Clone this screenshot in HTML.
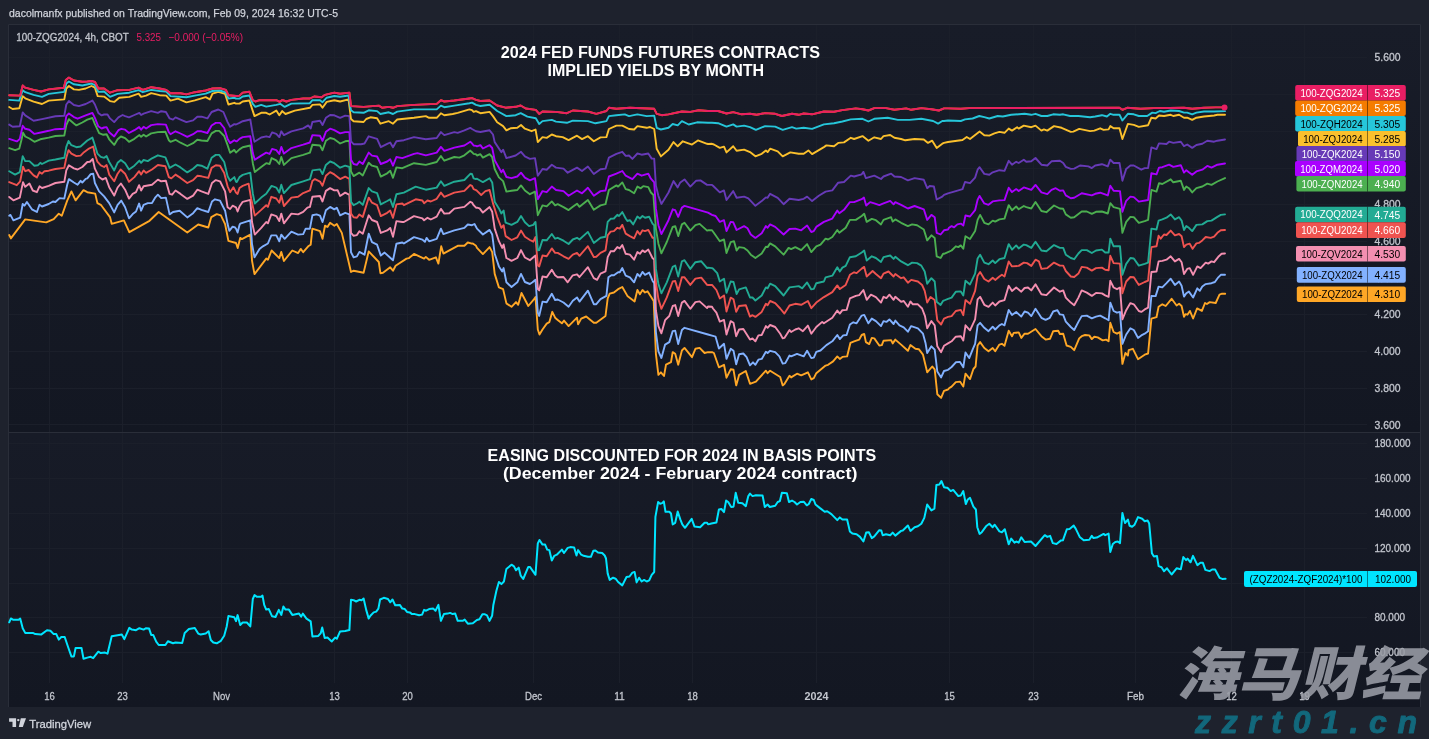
<!DOCTYPE html><html><head><meta charset="utf-8"><title>2024 Fed Funds Futures Contracts</title>
<style>html,body{margin:0;padding:0;background:#1e222d}body{width:1429px;height:739px;overflow:hidden;position:relative;font-family:"Liberation Sans", sans-serif}svg{position:absolute;left:0;top:0;display:block;will-change:transform;transform:translateZ(0)}text{font-family:"Liberation Sans", sans-serif;stroke-linejoin:round}.t{stroke:#c3c6ce;stroke-width:.3px}.wm{font-family:"Liberation Sans","Noto Sans CJK SC",sans-serif}</style></head><body>
<svg width="1429" height="739" viewBox="0 0 1429 739">
<rect x="0" y="0" width="1429" height="739" fill="#1e222d"/>
<g>
<defs><linearGradient id="gu" x1="0" y1="0" x2="0" y2="1"><stop offset="0" stop-color="#181c28"/><stop offset="1" stop-color="#131722"/></linearGradient><linearGradient id="gl" x1="0" y1="0" x2="0" y2="1"><stop offset="0" stop-color="#171b27"/><stop offset="1" stop-color="#131722"/></linearGradient></defs>
<rect x="8" y="24" width="1413" height="409" fill="url(#gu)"/><rect x="8" y="433" width="1413" height="274" fill="url(#gl)"/>
<path d="M8.5,707V24.5H1420.5V707" fill="none" stroke="#2a2e39" stroke-width="1"/>
<path d="M49.5,25V683M122.5,25V683M221.5,25V683M334.5,25V683M407.5,25V683M533.5,25V683M619.5,25V683M692.5,25V683M816.5,25V683M949.5,25V683M1033.5,25V683M1135.5,25V683M1231.5,25V683M1304.5,25V683M9,57.5H1367M9,94.5H1367M9,131.5H1367M9,168.5H1367M9,204.5H1367M9,241.5H1367M9,278.5H1367M9,314.5H1367M9,351.5H1367M9,388.5H1367M9,424.5H1367M9,443.5H1367M9,478.5H1367M9,513.5H1367M9,548.5H1367M9,583.5H1367M9,617.5H1367M9,652.5H1367" stroke="#1b1f2a" stroke-width="1" fill="none"/>
<path d="M9,432.5H1420" stroke="#2a2e39" stroke-width="1" fill="none"/>
<text x="9" y="17" font-size="11.5" fill="#d1d4dc" textLength="329" lengthAdjust="spacingAndGlyphs" stroke="#d1d4dc" stroke-width="0.25">dacolmanfx published on TradingView.com, Feb 09, 2024 16:32 UTC-5</text>
<text class="t" x="16.3" y="41.3" font-size="11" fill="#c3c6ce" textLength="112.5" lengthAdjust="spacingAndGlyphs">100-ZQG2024, 4h, CBOT</text>
<text x="136.5" y="41.3" font-size="11" fill="#E91E63" textLength="24.5" lengthAdjust="spacingAndGlyphs">5.325</text>
<text x="168.5" y="41.3" font-size="11" fill="#E91E63" textLength="74.5" lengthAdjust="spacingAndGlyphs">−0.000 (−0.05%)</text>
<text x="500.7" y="57.7" font-size="15.8" font-weight="bold" fill="#ffffff" textLength="319.4" lengthAdjust="spacingAndGlyphs">2024 FED FUNDS FUTURES CONTRACTS</text>
<text x="547.5" y="75.9" font-size="15.8" font-weight="bold" fill="#ffffff" textLength="216.7" lengthAdjust="spacingAndGlyphs">IMPLIED YIELDS BY MONTH</text>
<text x="487.6" y="460.9" font-size="15.8" font-weight="bold" fill="#ffffff" textLength="388.6" lengthAdjust="spacingAndGlyphs">EASING DISCOUNTED FOR 2024 IN BASIS POINTS</text>
<text x="502.9" y="479.1" font-size="15.8" font-weight="bold" fill="#ffffff" textLength="354.5" lengthAdjust="spacingAndGlyphs">(December 2024 - February 2024 contract)</text>
<polyline points="9.2,235 10.9,238.4 25.2,219.4 46.2,222.4 53.7,219.1 58.8,213.7 61.8,215.7 67.2,200.6 71.4,191.4 75.6,200.3 83.5,190.2 87.3,192.2 95.2,193.6 97.4,203.1 100.8,204.8 110,217.1 111.7,223.8 123.9,220.4 129.3,232.2 149.5,220.8 158.7,212 187.3,232.5 198.2,224.5 208.3,227.5 211.3,217.1 216.7,214.1 220.9,215.4 225.1,224.1 228.4,240.9 236,243 237.7,248 240.2,237.9 241.9,239.1 250.3,234.6 252,260.6 254.5,274.1 266.2,258.6 267.9,259.8 271.6,250.5 279.3,258.1 281.3,251.9 283.9,261 292.3,250.5 298.1,253.1 300.7,248.9 303.2,252.2 308.2,246.3 310.7,244.7 312.4,228.7 320,231.2 322.5,238.8 325,225.7 327.5,227 330.1,222.8 334.3,225.7 336.8,224 341.8,232.9 351,272 353.6,270.7 363.6,272.7 368.7,251.4 378.8,262 380.4,273.2 383,272.7 390.2,267.3 393,270.7 395.6,265.7 406.5,258.6 409,258.1 414,253.9 424.1,258.6 425.8,256.9 429.1,259.8 435.9,257.3 438.4,263.6 441.2,246.3 443.4,253.6 457.7,245.8 464.4,245.8 467.8,242.5 472,243.7 472.8,243.5 476,245.8 477,247.9 482.9,254.1 489.6,247.1 492.2,252.1 494.7,273.9 498.9,287.4 503.1,289.1 506.4,303.4 511.5,306.8 516,302.1 518.2,304.8 521.5,293 528.3,306 534.1,299.2 535.5,297.1 537.8,329.5 539.5,334.5 542.5,329.5 546.7,323.6 549.3,322.2 552.3,311.8 555.1,317.7 557.7,319.9 561.9,323.3 564,320.6 568.6,326.1 577,317.7 578.1,324.4 581.2,318.6 586.2,316.5 593.8,322.8 596.3,322.8 605.5,316 607.7,298.4 609.7,293.7 613.9,292.5 618.1,289.2 622.3,287 627.4,295.9 634.6,301.4 637.4,290 639.9,294.2 642.5,290 645,292.5 647.5,291.3 653.7,300.9 655.9,353.8 658.4,374.8 660.9,372.3 664,376 666,364.7 671,362.2 672.7,352.1 675.2,353.8 678.2,364.7 681.9,350.5 684.5,347.9 692,357.2 695.4,348.8 699.6,347.9 704.6,353 708,352.2 712,352.1 713.9,353 718.9,367.3 724,364.8 726.5,377.7 730.7,369.3 733.5,369.8 736.2,385.4 739.1,374.9 745.8,371 750,383.8 755.9,381.6 765.9,370.7 767.6,373.2 770.1,370.7 780.2,377 782.7,385.4 784.4,384.1 789.5,375.7 791.1,377.4 797,373.7 801.2,375.4 807.9,372.3 811.3,379.4 813.8,378.2 816.3,373.2 825.6,365.6 828.1,364.8 833.1,361.4 837.3,356.4 839.8,358.9 842.4,356.9 847.1,356.4 850.4,342.9 854.1,341.3 859.2,339.6 861.7,335 864.2,334 865.9,342.1 869.2,344.1 871.8,337.9 874.3,338.4 879.3,345.5 881.8,345.1 883.5,340.8 891.1,340.1 892.7,343.4 895.3,339.6 901.1,344.6 907.9,350.8 910.4,345.1 915.4,348.8 918.8,349.2 923,354.7 927.2,372.3 932.2,366.5 934.7,369.3 937.3,394.2 941.1,397.9 944,390.8 948,389.5 949,388.3 951.6,386.6 955.8,382.1 960,381.6 963.3,386.6 965.5,373.7 970,379.1 973.4,369 975.6,366.5 977.6,345.5 980.1,342.1 984.3,348 988.5,351.3 992.7,348 995.2,351.3 999.4,344.6 1001.9,343.8 1004.5,345.8 1008.7,330.7 1012,336.2 1013.7,332.9 1018.7,332.4 1021.3,337.9 1024.6,333.7 1028,333.7 1035.5,329 1041.4,336.2 1045.6,339.6 1050.1,338.7 1053.2,331.2 1058.2,330.7 1059.9,334 1063.2,333.7 1066.6,345.5 1070.8,346.8 1074.2,350.2 1079.2,338.4 1081.7,336.2 1085.1,335 1089.3,335.4 1091.8,339.1 1094.3,336.7 1097.7,337.4 1102.7,340.4 1106.1,339.6 1108.6,341.3 1110.3,322.8 1113.6,332 1117,333.7 1120,332 1122.4,363.9 1125.4,353 1127.9,355.5 1128.7,350.2 1132.9,348.8 1138,359.2 1144.7,354.7 1148.1,353.5 1151.4,318.6 1156.5,317.2 1158.6,306.8 1162.3,304.3 1165.7,306 1171.6,298.8 1176.6,305.5 1179.1,303.8 1181.6,306 1184,316.9 1185.5,314.1 1187.4,314.7 1189.9,310.9 1193.1,318.5 1197.1,308.4 1201.9,310.9 1205,303 1206.9,304 1209.7,302.1 1215.7,303 1219.5,294.6 1222,293.7 1225.2,293.7" fill="none" stroke="#FFA726" stroke-width="1.9" stroke-linejoin="round" stroke-linecap="round"/>
<polyline points="9.2,215.7 10.4,214.9 13.4,220.4 20.2,217.7 22.7,204 24.4,205.7 26.9,202 31.9,209.3 34.4,210.7 36.9,212 39.5,204.8 42,206.5 48.7,204 52.9,201.5 55.4,202 59.6,198.1 64.3,198.6 67.2,184.7 68.9,179.1 73.9,182.5 77.6,184.7 80.6,180.8 82.3,182.5 85.7,178.8 87.3,178.4 90.7,174.1 93.2,173.7 94.9,183 99.1,191.4 104.1,196.4 109.2,203.1 114.2,212.4 117.6,204.8 121.3,200.6 125.1,207.3 129,218.3 132.7,214.1 136,211.5 139.1,203.6 141.1,210.7 143.6,204.8 147.8,203.1 152,203.1 155.4,197.3 157.9,194.7 161.2,198.1 165.9,197.6 169.6,214.4 173,212 179.7,210.7 187.3,217.4 193.1,213.2 197.3,208.2 201.5,209.9 208.3,212 212,201.5 215,199.3 220,200.6 225.1,210.7 227.6,224.1 229.3,230.8 232.6,226.6 235.1,227.5 236,228.7 237.6,232.5 239.5,225 240.2,223.7 250.3,220.3 252,243.8 254.5,257.3 259.5,248.9 262.9,246.3 267.9,243.5 271.3,235.4 276.3,235.4 279.3,241.3 281.3,234.6 284.7,238.8 291.4,231.7 298.1,234.6 303.2,234.1 305.7,228.7 309.9,228.7 312.4,215.3 316.6,214.4 320,215.6 322.5,222 325.9,210.2 330.1,206.9 334.3,209.4 336.8,207.7 340.1,215.3 345.2,212.8 349.4,214.4 351,252.2 353.6,257.3 356.9,256.4 359.4,251.9 364.5,254.7 368.7,233.7 372,242.1 377.1,244.7 380.8,255.6 384.6,252.6 393,260.3 396.4,243.8 402.3,242.5 403.9,243.5 414,237.1 422.4,239.6 424.9,241.8 426.6,237.9 429.1,241.3 436.7,238.8 440.9,228.7 443.4,234.1 454.3,230.4 464.4,227.9 467.8,224.5 472,225.2 474.5,224 476,226.7 477,228.6 482.9,234.5 489.6,229.9 492.2,234.5 494.7,253.8 498.9,266.4 502.2,271.4 503.6,268.1 506.4,282.3 511.5,287 517.3,282.3 521,273.9 524.9,282 529.9,284 532.5,282.3 535.5,279.8 537.8,312.6 539.2,315.9 542.5,301.6 546.7,302.2 551.8,293.8 555.1,300 557.7,299.5 563.5,302.5 568.6,306.7 572.8,300.8 577,297.4 579.5,301.6 587.9,290.7 593.8,304.2 596.3,304.2 600.5,299.1 606.4,295.8 608.4,277.3 611.4,275.3 613.9,275.3 618.1,272.3 619.8,272.3 622.3,268.1 625.7,275.6 629.9,277.3 634.1,282.3 637.4,273.9 639.9,276.5 642.5,271.9 645,274.8 649.2,272.6 652.5,280.7 654.2,283.2 655.9,332 658.4,351.3 661.4,358 665.1,344.6 669.3,342.1 672.7,331.1 675.2,330.6 678.2,344.1 681.9,330 684.5,327.8 708,334.5 712,335.7 715.6,336.7 718.9,348.5 724,343.8 726.5,358.9 730.7,348.8 733.5,350.8 736.2,364.3 739.1,354.2 743.3,353.5 746.6,357.2 750,365.3 753,362.3 755.4,364.8 758.4,359.7 761.7,358.9 765.9,351.8 767.6,353 770.1,350.8 775.2,352.2 779.4,356.4 782.7,363.6 785.3,363.1 789.5,355.5 791.1,356.4 797,353.9 803.7,356.4 807.1,350.8 811.3,358.1 813.8,357.6 816.3,351.8 820.5,350.5 826.4,345.1 832.3,341.3 837.3,335 839.8,339.1 843.2,335.4 846.6,335 849.9,324.5 853.3,322.3 856.6,323.3 861.7,315.6 864.2,314.9 868.4,323.3 871.8,318.6 875.9,321.1 881,326.1 883.5,321.1 886.4,321.9 889.4,319.4 893.6,324 895.3,320.6 899.5,325.3 903.7,327.3 907.9,331.7 911.2,326.1 917.9,328.3 923,333.7 925.5,342.9 927.2,353 931.4,346.3 934.7,349.7 937.3,371.5 941.1,377.4 944,371 948,369.8 949,369 951.6,367 955.8,362.3 960,361.9 963.3,367.3 965.5,352.5 969.2,358.1 972.6,349.7 975.1,343.8 977.6,325.3 980.1,322.8 984.3,327.8 988.5,331.2 992.7,326.7 995.2,329.5 999.4,325.3 1001.9,324 1004.5,325.3 1008.7,309.9 1012,314.9 1016.2,311.9 1021.3,316.6 1024.6,311.5 1028,312.7 1031.3,316.1 1035.5,308.8 1041.4,317.8 1045.6,319.9 1049.8,317.8 1053.2,311.5 1057.4,310.2 1059.9,314.4 1063.2,314.9 1065.8,321.6 1070.8,327 1074.2,330 1078.4,321.9 1081.7,316.1 1086.8,315.6 1091.8,318.3 1096,316.6 1100.2,315.6 1105.2,318.3 1108.6,320.3 1110.3,302.6 1113.6,311 1117,312.7 1120,311.9 1122.4,343.8 1126.2,334.5 1130.4,328.3 1133.8,330 1138,337.9 1141.3,335.4 1144.7,333.7 1148.1,331.2 1151.4,295.9 1155.6,296.1 1158.6,286.6 1162.3,287.4 1166.5,283.2 1170.7,278.7 1174.9,284.9 1179.1,281.5 1181.6,285.7 1184,296.6 1186.3,293.3 1188.9,291.6 1193.1,297.5 1197.3,288.3 1199.8,290.8 1202.3,286.6 1205.7,284.1 1211.5,283.2 1214.9,282 1218.3,277.3 1220.8,274.8 1225,274.8" fill="none" stroke="#82B1FF" stroke-width="1.9" stroke-linejoin="round" stroke-linecap="round"/>
<polyline points="9.2,196.9 13.4,200.3 19.8,197.6 23,182.1 25.2,186.8 29.4,183.5 32.8,190.5 36.9,192.2 39.5,186.3 42,188 48.7,185.8 55.4,183 64.3,181.8 66.3,170.4 68.9,165.3 73.9,168.4 77.6,169.5 82.3,167 87.3,162 89.9,161.7 92.7,159 94.9,168.7 99.1,177.1 102.4,179.6 105.8,177.9 109.2,187.2 114.2,195.6 117.6,187.5 120.9,183.5 125.1,189.7 129,198.6 132.7,193.9 136,192.2 139.1,185.2 141.1,190.5 143.6,186.3 147.8,185.5 152,184.7 157.9,179.6 161.2,181.3 165.9,180.8 169.6,193.9 172.1,194.7 175.5,190.5 180.5,193.9 187.3,198.9 193.1,195.6 197.3,189.7 201.5,191.4 208.3,193.9 212,183 215.8,180.1 220,181.3 225.1,191.4 227.6,207.3 230.1,209 232.6,205.7 236,207.3 237.6,211.5 239.5,206.5 242.7,201.8 250.3,199.8 252,222 254.8,234.6 261.2,227.9 266.2,222 267.9,223.3 271.3,214.4 276.3,216.1 279.3,221.1 281.3,213.6 283.9,223.3 291.4,213.6 298.1,214.4 303.2,211.9 307.4,207.7 309.9,206.9 312.4,196.8 320,196 322.5,201.5 325.9,190.9 330.1,188.1 334.3,190.4 337.6,190.1 340.1,196 345.2,192.6 349.4,194.8 351,232.9 353.6,235.8 356.9,235.1 359.4,231.2 362.8,233.7 368.7,215.3 372,220 377.1,222 380.8,232.9 387.2,230.4 390.2,227.9 393,236.8 396.4,221.1 402.3,222 403.9,222 414,216.1 422.4,218.3 424.1,220.3 427.5,217.8 430.8,219.5 436.7,216.6 440.9,208.9 444.3,213.6 449.3,213.3 454.3,208.6 464.4,206.9 470.3,201.8 472,202.6 473.6,205.2 476,207.7 477,207.6 479.6,208.4 482.9,212.6 489.6,207.1 492.2,211.8 494.7,228.6 498.9,241.2 502.2,247.9 503.6,244.5 506.4,258 511.5,260.8 517.3,258 521,250.1 524.9,257.5 529.9,260.2 532.5,258 535.5,255.5 537.8,289.1 539.2,290.4 542.5,276.5 546.7,277.3 551.8,269.7 555.1,275.3 557.7,277.3 563.5,277 567.7,282.3 572.8,275.3 577,274.3 579.5,277 587.9,267.2 593.8,278.1 597.1,279.8 600.5,273.6 605.5,271.4 607.7,257.1 610.6,251.3 613.9,251.3 617.3,247.1 619.8,248.4 622.3,245 625.7,253.8 629.9,254.6 634.1,259.7 637.4,252.1 639.9,253.8 642.5,250.4 645,252.1 648.3,249.6 652.5,258 654.2,259.7 655.9,310.2 658.4,326.1 661.4,333.3 665.1,320.2 669.3,316 672.7,306 675.2,305.1 678.2,316 681.9,302.6 684.5,300.9 690.3,308.8 695.4,302.1 699.6,301.4 707.1,308.1 708,306.5 712,306.8 713,308.5 716.4,312.7 719.8,321.6 724,319.9 726.5,334.5 730.7,321.1 733.5,322.8 736.2,336.2 739.1,329.5 743.3,329 750,339.6 752.5,338.4 755.4,341.3 758.4,335.4 761.7,335 765.9,326.1 767.6,327.8 770.1,325 775.2,327 780.2,333.7 782.7,338.4 784.4,337.9 789.5,330 791.1,332 795.3,329.5 798.7,328.3 802.9,331.2 807.9,325.6 811.3,333.7 816.3,327 822.2,321.9 823.9,323.3 832.3,317.8 837.3,310.5 839.8,313.6 842.4,310.2 846.6,309.9 849.9,298.4 855.8,295.9 859.2,295.1 863.4,290 866.7,299.8 870.9,294.7 875.9,297.1 881,302.6 883.5,296.8 886.4,298.1 889.4,294.7 893.6,299.8 895.3,296.8 901.1,301.8 903.7,301 907.9,306.8 910.4,301.5 912.9,304.3 917.9,304.3 922.1,308.5 925,316.1 927.2,328.3 931.4,321.1 934.7,325.3 937.3,346.3 941.1,352.2 944,345.8 948,343.4 951.6,341.3 955.8,336.7 960.8,336.2 963.3,340.4 965.5,325.3 970,330.3 975.1,319.4 977.6,299.3 980.1,296.8 984.3,304.8 988.5,306.8 992.7,302.6 995.2,305.5 999.4,301.5 1004.5,300.1 1008.7,285.8 1012,290.9 1016.2,287.5 1021.3,291.7 1024.6,288 1028,287.5 1031.3,290.4 1035.5,284.2 1041.4,294.2 1046.4,295.1 1054,287.5 1059.9,291.7 1063.2,290.4 1065.8,297.6 1070.8,302.6 1074.2,305.2 1078.4,297.6 1081.7,290.4 1086.8,292.6 1091.8,295.9 1096,292.9 1101.9,293.4 1105.2,295.4 1108.6,296.8 1110.3,280.8 1113.6,287.5 1117,289.2 1120,287.5 1122.4,319.4 1126.2,310.2 1130.4,303.1 1133.8,304.3 1138.8,311 1141.3,311.9 1144.7,309.4 1148.1,307.7 1151.4,272 1156.5,271.5 1158.6,261.4 1162.3,260.9 1166.5,259.7 1170.7,256.3 1174.9,261.4 1179.1,258.9 1181.6,262.2 1184,274 1187.2,268.9 1189.7,268.1 1193.1,274.8 1197.3,266.4 1200.6,268.1 1205.7,262.6 1208.2,263.6 1211.5,261.4 1214.1,262.2 1218.3,256.8 1221.6,253.8 1225,253.5" fill="none" stroke="#F48FB1" stroke-width="1.9" stroke-linejoin="round" stroke-linecap="round"/>
<polyline points="9.2,182.1 16.8,185.2 20.2,181.3 23,166.7 25.2,171.2 28.6,170 33.6,175.4 36.9,177.4 39.5,172.1 42,173.7 44.5,171.2 48.7,170.7 55.4,169 64.3,167.9 66.3,157.8 68.5,150.2 71.4,153.6 76.4,156.1 80.6,155.6 84,152.2 89,148.6 93.2,146.5 94.9,154.4 97.4,161.7 100.8,165.3 104.1,167 106.6,165 109.2,174.6 114.2,181.3 117.6,173.7 120.6,169.5 125.1,173.7 129,181.8 134.4,177.1 139.1,171.2 141.1,174.6 143.6,170.4 146.1,172.9 152,169.5 157.9,165 165.4,166.2 168.8,177.1 171.3,178.4 175.5,174.6 180.5,177.9 187.3,183 193.1,180.1 197.3,175.8 201.5,176.3 208.3,177.9 211.6,167.9 215.8,165.3 220,165.7 224.2,172.9 227.6,186.3 230.1,192.2 233.4,187.2 236,192.6 237.6,193.9 239.5,188 242.7,185.9 248.6,183.7 251.1,198.5 254.8,215.6 261.2,209.9 266.2,205.2 267.9,206.9 271.3,196.8 276.3,198.5 279.3,202.7 281.3,195.5 283.9,206 291.4,197.6 298.1,196.8 303.2,193.1 309.9,190.4 312.4,181.1 314.9,179.1 320,181.6 322.5,185.8 325.9,175.8 330.1,172.1 334.3,174.4 340.1,179.1 345.2,176.6 349.4,178.8 351,213.6 353.6,217.3 356.9,217.8 359.4,214.4 362.8,216.9 368.7,197.6 372,202.7 377.1,205.2 380.8,216.1 387.2,212.8 390.2,210.6 393,217.8 396.4,204.4 402.3,203.5 403.9,205.2 415.7,199.3 422.4,200.5 424.1,203.2 427.5,200.5 430.8,201.5 436.7,198.8 440.9,192.6 444.3,196.8 454.3,192.6 464.4,190.9 470.3,185 472,185.8 473.6,189.2 476,190.1 477,190.8 481.2,195 485.4,191.1 489.6,190 493,203.4 497.2,216.8 501.4,227.8 503.6,225.2 505.6,236.1 511.5,240 517.3,237.3 521,230.6 524.9,236.7 529.9,240 533.3,241.7 535.5,237 537.8,265.5 539.2,266.4 542.5,255.5 546.7,256.3 551.8,248.4 555.1,252.9 557.7,252.9 563.5,256.3 568.6,258.8 572.8,254.6 577,252.9 579.5,255.8 587.9,246.2 593.8,257.1 596.3,256.8 600.5,252.9 605.5,250.4 607.7,235.3 610.6,231.6 613.9,231.1 617.3,227.8 619.8,228.6 622.3,224.9 625.7,233.6 629.9,236.1 634.1,238.3 637.4,231.1 639.9,234.5 642.5,230.3 645,231.1 648.3,229.9 652.5,237.8 654.2,237.8 655.9,282.3 658.4,299.1 661.4,308.9 666.8,297.4 672.7,281.5 675.2,281 678.2,291.1 681.9,277.3 684.5,277.3 690.3,284.9 695.4,278.6 701.3,277.6 707.1,284.9 708,285 712,284.9 716.4,290 719.8,298.4 724,295.4 726.5,311.5 730.7,297.6 733.5,299.3 736.2,311.9 739.1,306 745.8,305.2 750,316.6 752.5,315.2 755.4,316.9 761.7,311.9 765.9,303.8 767.6,305.2 770.1,301 775.2,303.1 780.2,308.5 784.4,313.6 789.5,305.5 795.3,303.8 801.2,304.8 807.9,301 811.3,308.2 816.3,302.6 823.9,297.1 832.3,292.1 837.3,285.4 839.8,289.1 845.7,284.9 849.9,274.8 854.1,272.3 856.6,273.1 861.7,268.6 864.2,266.9 866.7,276.5 872.6,271 875.9,274 881,278.2 883.5,273.6 888.5,271.5 893.6,276.5 895.3,274 901.1,278.2 903.7,277.3 907.9,282.7 911.2,279.9 917.9,281.5 922.1,285 924.7,290.9 927.2,302.6 930.5,297.1 934.7,300.1 937.3,320.3 941.1,324.5 944,318.6 948,316.9 951.6,316.1 955.8,311 960.8,309.9 963.3,315.2 965.5,300.1 970,303.8 975.1,290.9 977.6,275.7 980.1,272 984.3,279 988.5,281.5 992.7,277.7 995.2,279.9 999.4,276.5 1001.9,274.8 1004.5,276.5 1008.7,261.4 1012,266.4 1018.7,265.9 1023.8,262.6 1027.1,263.1 1031.3,265.9 1035.5,259.7 1038.9,261.4 1041.4,268.9 1047.3,268.1 1054,262.6 1059.9,265.6 1063.2,265.6 1065.8,271 1070.8,276.5 1074.2,277 1078.4,273.6 1081.7,266.9 1086.8,267.6 1091.8,270.6 1096,268.1 1101.9,267.6 1105.2,269.8 1108.6,270.3 1110.3,255.8 1113.6,263.1 1120,263.6 1122.4,293.3 1126.2,281.5 1130.4,277 1133.8,277.3 1138.8,284.9 1144.7,282 1148.1,280.7 1151.4,247.1 1156.5,246.3 1158.6,235.7 1160.7,238.7 1164,234.5 1166.5,235 1170.7,230.6 1174.9,235.3 1179.1,234 1181.6,236.2 1184,247.1 1186.3,244.6 1189.7,243.7 1192.6,248.8 1196.4,243.4 1198.9,242.9 1202.3,240.4 1205.7,237 1210.7,237.9 1214.1,236.7 1217.4,232.8 1220.8,230.3 1225,230" fill="none" stroke="#EF5350" stroke-width="1.9" stroke-linejoin="round" stroke-linecap="round"/>
<polyline points="9.2,171.2 15.1,174.6 19.8,172.1 22.7,156.1 25.2,161.1 29.4,161.1 34.4,165.7 37.8,165.3 40.3,162.8 42,164 48.7,160.6 55.4,159.5 64.3,157.8 66.3,146.9 68.5,141 71.4,145.2 76.4,147.2 80.6,146.5 87.3,140.5 92.4,137.6 94.9,145.2 97.4,153.6 100.8,156.9 104.1,157.8 106.6,156.1 109.2,162 114.2,170.4 117.6,162.8 120.9,160 125.1,163.3 129,169.5 134.4,165.7 139.4,160.6 141.1,162.8 143.6,160 147.8,161.1 152,158.3 157.9,155.3 165.4,157.3 169.6,167.9 175.5,164.5 180.5,167.4 187.3,172.4 193.1,168.7 197.3,165 201.5,165.7 207.4,168.7 211.6,157.8 215.8,154.9 219.2,154.9 224.2,162 227.6,176.3 230.1,180.8 234.3,177.1 236,181.6 236.8,182.1 239.5,177.1 242.7,174.9 250.3,172.7 252.8,193.4 254.8,203.5 261.2,197.6 266.2,193.8 271.6,185.9 276.3,187.6 279.3,192.6 281.3,184.7 283.9,193.1 291.4,185 303.2,181.3 309.9,179.2 312.4,170.4 320,169.4 322.5,174.1 325.9,164.9 330.1,161.5 334.3,163.2 340.1,167.7 345.2,165.7 349.4,167 351,201.8 353.6,205.2 356.9,203.5 359.4,201.8 362.8,204.9 368.7,188.1 372,191.4 377.1,193.1 380.8,204.4 387.2,201 390.2,199.3 393,206.9 396.4,194.3 403.9,192.6 415.7,186.7 425.8,189.7 436.7,187.6 440.9,181.3 444.3,185.9 454.3,181.7 464.4,180 470.3,173.8 472,174 473.6,178.3 476,179.1 477,178.7 480.4,180.7 482.9,182.1 489.6,178.2 492.2,182.4 494.7,201.7 498.9,208.4 501.4,213.5 503.6,210.5 505.6,222.7 511.5,224.9 517.3,221.9 521,216 524.9,222.2 529.1,226.1 533.3,224.9 535.5,221.9 537.8,250.4 539.2,250.1 542.5,240 546.7,240.3 551.8,234 555.1,238.7 557.7,237.8 563.5,240.7 568.6,244 572.8,239.5 577,237.8 579.5,239.5 587.9,231.9 593.8,242.9 600.5,237.8 605.5,236.7 607.7,221.9 610.6,218.8 613.9,218.5 617.3,214.8 619,216 622.3,212.1 625.7,218.5 627.4,221 629.9,220.2 633.2,224.4 637.4,216.5 639.9,218.5 642.5,216 645,217.7 649.2,216.8 652.5,223.6 654.2,225.2 655.9,268.9 658.4,284 661.4,293.3 666.8,282.3 672.7,266.9 675.2,265.5 678.2,276.5 681.9,261.3 684.5,260.2 690.3,268.9 695.4,262.2 701.3,261.3 707.1,268.1 708,267.6 712,268.1 713,268.6 717.2,273.1 719.8,281.5 724,278.7 726.5,292.8 730.7,281.5 733.5,282 736.6,294.1 739.1,289.4 745.8,287.4 750,297.5 752.5,297.5 755.4,300.5 761.7,295.5 765.9,287.4 767.6,288.3 770.1,283.7 775.2,286.1 783.6,295.5 789.5,287.4 795.3,286.6 798.7,286.1 802.1,288.3 807.1,282.4 811.3,289.4 813.8,288.8 816.3,283.2 823.9,281.5 825.6,277.3 832.3,275.7 837.3,267.3 839.8,271.5 842.4,267.6 845.7,265.9 849.9,257.2 855.8,256.3 861.7,252.5 864.2,250.5 866.7,260.5 871.8,256.3 875.9,258 881,261.9 883.5,257.2 890.2,255.5 893.6,258.9 895.3,256.8 901.1,261.4 907.9,265.2 912.1,262.6 917.1,263.1 921.3,265.6 924.7,271.5 927.2,283.7 931.4,278.2 934.7,281.5 936.7,301.7 940.6,305 943.1,300.8 944,300.5 948,298.8 951.6,297.6 955.8,291.7 960.8,291.4 963.3,295.4 965.5,280.7 970,284.4 975.1,273.6 977.6,258.5 980.1,254.7 984.3,262.6 988.5,264.2 992.7,260.5 995.2,263.1 999.4,259.2 1004.5,258 1008.7,244.1 1012,249.6 1016.2,245.4 1018.7,248.4 1023.8,244.6 1026.3,245.1 1031.3,247.9 1035.5,241.7 1041.4,250.5 1046.4,251.3 1054,245.1 1059.9,247.9 1063.2,247.9 1065.8,254.7 1070.8,258 1074.2,259.2 1078.4,253.5 1081.7,250.1 1086.8,250.1 1091.8,253 1096,250.5 1101.9,249.6 1105.2,252.5 1108.6,252.5 1110.3,238.7 1113.6,246.3 1120,246.3 1122.4,274.8 1126.2,263.9 1130.4,258 1133.8,258.5 1138.8,265.6 1144.7,263.9 1148.1,262.6 1151.4,228.6 1156.5,229.5 1158.6,220.6 1162.3,219.4 1166.5,217.7 1170.7,214.4 1174.9,219.4 1179.1,217.2 1181.6,220.6 1184,230 1186.3,226.1 1188.9,227.8 1192.2,231.1 1196.4,224.9 1202.3,224.4 1207.3,221.1 1211.5,220.6 1217.4,216.9 1220.8,214.9 1225,214.4" fill="none" stroke="#22AB94" stroke-width="1.9" stroke-linejoin="round" stroke-linecap="round"/>
<polyline points="9.2,148.2 15.1,150.2 19.3,148.6 21.5,139.8 23,132.6 25.2,136.5 29.4,138.5 34.4,141.8 40.3,139.3 48.7,137.6 55.4,136 64.3,135.5 66.3,125 68.9,119.2 73.9,123.4 76.4,125.4 82.3,122.5 87.3,119.7 92.4,118 94.9,124.2 96.6,127.6 99.1,133.1 103.3,134.8 106.6,134.3 109.2,139.3 114.2,144.9 117.6,139.3 120.9,136.5 125.1,138.1 129,141.8 134.4,138.8 139.4,135.1 141.1,136.8 143.6,134.8 146.1,136.5 151.2,133.4 157.9,132.1 165.4,131.8 168.8,140.2 170.5,141.8 175.5,139.8 180.5,142.7 187.3,146 193.1,143.2 197.3,139.8 201.5,140.5 207.4,141 211.6,133.4 215.8,130.9 219.2,130.9 224.2,136 227.6,145.2 230.1,152.8 234.3,149.9 236,152.6 236.8,151.9 239.5,149.4 242.7,147.2 250.3,145.5 252.8,163.2 254.8,172.1 261.2,167 266.2,163.2 269.6,164 271.6,158.1 276.3,160.3 279.3,164 281.3,157 283.9,164.9 291.4,158.1 303.2,154.8 309.9,152.6 312.4,144.7 320,145.5 322.5,150.2 325.9,140.8 330.1,138 334.3,139.2 340.1,143.5 345.2,141.3 349.4,140.8 351,171.6 353.6,176.1 356.9,174.1 359.4,172.7 362.8,175.4 368.7,162.7 372,165.7 377.1,167 380.8,176.6 387.2,173.3 390.2,170.7 393,177.8 396.4,167.4 402.3,168.2 414,163.2 425.8,164.9 436.7,162 440.9,156 444.3,160.7 454.3,157 459.4,157.6 464.4,155.3 470.3,150.6 472,152.2 473.6,153.9 476,154.3 477,155.5 480.4,154.2 482.9,157.6 489.6,154.2 492.2,157.2 494.7,169 498.9,177.4 503.1,181.1 506.4,191.6 511.5,190.8 517.3,190 521,185.4 524.9,190.5 529.9,194.2 535,191.6 537.8,215.2 542.5,205.4 546.7,206.4 551.8,201.4 555.1,205.4 557.7,204.2 563.5,207.1 568.6,210.1 572.8,206.8 577,203.7 579.5,206.8 587.9,200 593.8,209.8 600.5,205.4 605.5,204.2 608.9,190 616.4,185.4 618.1,186.6 622.3,182.4 625.7,189.1 629,190 634.1,193.3 637.4,186.6 640.8,188.3 643.3,186.1 648.3,187.1 650.9,192.5 653.4,195 655.9,228.6 658.4,243.7 661.4,253.4 666.8,242 672.7,226.9 675.2,226.1 678.2,236.1 681.9,224.4 684.5,222.7 690.3,230.6 695.4,225.2 699.6,223.9 707.1,230.6 708,230.3 712,230.3 714.7,234 719.8,241.2 724,239.5 726.5,253 730.7,242.1 734,241.2 736.6,250.5 739.1,247.1 744.1,247.9 747.5,250.5 750.8,254.7 755.4,258 761.7,253.5 765.9,246.8 767.6,247.1 770.1,243.4 775.2,246.3 780.2,251.3 783.6,254.7 788.6,247.9 791.1,249.1 795.3,247.1 801.2,250.1 807.1,244.1 811.3,252.1 816.3,246.3 820.5,244.6 825.6,238.7 828.1,239.5 832.3,237 837.3,230 839.3,232.8 845.7,227.8 849.9,219.9 855.8,219.9 861.7,216 864.2,213.8 866.7,221.9 871.8,218.9 875.9,220.2 881,224.4 883.5,219.9 891.1,217.2 892.7,221.6 895.3,219.4 901.1,222.8 907.9,226.1 912.1,224.4 917.1,225.3 923.8,229.5 927.2,240.4 931.4,235.3 934.7,237.9 936.7,256.3 940.6,258 943.1,253.8 944,253.8 948,252.1 951.6,250.5 955.8,246.3 958.3,247.1 960.8,245.4 963.3,248.8 965.5,236.2 970,239 975.1,231.1 977.6,219.9 980.1,214.9 984.3,222.8 988.5,224.4 992.7,220.6 995.2,221.6 999.4,219.4 1004.5,218.6 1008.7,205.1 1012,210.2 1016.2,206.5 1018.7,209.3 1023.8,206 1026.3,207.1 1031.3,208.5 1035.5,202.1 1041.4,211 1046.4,212.2 1054,205.5 1059.9,208.5 1063.2,208.8 1065.8,214.4 1070.8,217.7 1074.2,217.2 1081.7,211.5 1086.8,211.5 1091.8,213.8 1096,211.8 1101.9,211.5 1107.8,213.5 1110.3,203.1 1113.6,207.1 1120,208.8 1122.4,232.8 1126.2,221.9 1130.4,216.9 1133.8,217.2 1138.8,222.8 1144.7,221.1 1148.1,219.9 1151.4,189.9 1156.5,191.6 1159,183.2 1162.3,184 1170.7,179.3 1173.3,182.3 1180.8,180.7 1184,189.9 1186.3,186.5 1188.9,188.2 1192.2,192.4 1196.4,188.2 1202.3,186.5 1207.3,183.7 1211.5,184.9 1217.4,181.5 1225,178.1" fill="none" stroke="#4CAF50" stroke-width="1.9" stroke-linejoin="round" stroke-linecap="round"/>
<polyline points="9.2,138.9 16.8,141.4 19.8,138.9 22.7,125.8 25.2,128.8 29.4,129.7 34.4,133.9 42,132.2 48.7,130.8 55.4,129.2 64.3,128.8 66.3,116.2 68.9,113.4 73.9,117.1 77.6,118.7 85.7,115.4 92.4,112.9 94.9,117.9 98.3,126.3 101.6,128.5 104.1,127.5 106.6,127.1 109.2,132.2 114.2,136.4 118.4,130.2 121.3,128.8 125.1,129.7 129,133 134.4,130.2 139.1,127.1 141.1,129.7 143.6,126.8 146.1,128.5 151.2,125.1 157.9,124.1 165.9,124.6 168.8,132.2 170.5,134.2 175.5,131.3 180.5,133.5 187.3,136.9 193.1,134.2 197.3,131.3 201.5,131.3 207.4,133 211.6,125.5 215.8,122.9 220,122.9 224.2,128 227.6,138.9 230.1,143.1 234.3,140.2 236,141.3 236.8,141.4 239.5,138.9 242.7,137.1 250.3,136.3 252.8,153.1 254.8,159.8 261.2,155.6 266.2,152.6 269.6,153.9 272.1,148.9 276.3,150.2 279.3,153.9 281.3,146.9 283.9,153.6 291.4,148.1 303.2,144.7 309.9,142.5 312.4,135.1 320,135.8 322.5,140.8 325.9,131.8 330.1,128.7 334.3,130.1 340.1,133.4 345.2,132.1 349.4,132.1 351,159.8 353.6,164 356.9,164.9 359.4,161.5 362.8,164 368.7,152.6 372,155.6 377.1,156.5 380.8,164 387.2,161.5 390.2,159.3 393,165.7 396.4,157 402.3,158.1 414,153.9 417.4,153.1 425.8,155.3 436.7,152.6 440.9,146.9 444.3,150.9 454.3,147.6 464.4,145.5 470.3,141.8 472,143.4 473.6,145.5 476,145.9 477,146.3 480.4,145.1 482.9,148.5 489.6,145.1 492.2,148 494.7,160.2 501.4,172.3 503.1,169.8 506.4,177 511.5,178.2 517.3,176.5 521,172.7 524.9,177.7 529.9,180.4 535,178.2 537.8,199.2 542.5,191.1 546.7,192.2 551.8,186.6 556,190 563.5,191.1 568.6,195.8 577,190.5 582,193.3 587.9,187.8 593.8,195.8 600.5,191.1 605.5,190.5 608.9,176.5 616.4,173.7 622.3,171 625.7,175.7 632.4,179.1 637.4,173.7 641.6,175.7 648.3,173.7 650.9,178.7 654.2,182.4 655.9,208.4 658.4,225.2 661.4,234 668.5,220.2 672.7,209.3 675.2,210.1 678.2,216.8 681.9,207.6 684.5,205.9 708,212.7 712,214.8 715.6,216 719.8,221.9 724,220.2 726.5,231.1 730.7,221.9 733.2,222.2 736.6,230 744.1,226.1 747.5,228.3 750.8,234.5 755.4,237.9 761.7,233.3 765.9,226.1 767.6,227.8 770.1,224.4 775.2,226.9 783.6,234.5 789.5,229 795.3,228.6 801.2,230.3 807.1,225.6 811.3,232 813.8,231.1 816.3,226.9 823.9,221.9 832.3,218.6 837.3,210.5 839.3,213.2 844,209.8 849.9,202.1 854.1,202.1 861.7,199.2 863.9,197.6 866.2,205.5 870.1,202.1 874.3,203.4 879.3,205.1 883.5,203.4 890.2,200.9 893.6,204.3 895.3,202.1 901.1,204.8 907.9,208.5 914.6,206 923.8,209.3 927.2,219.9 931.4,214.9 934.7,217.2 936.7,232.8 940.6,234.5 944,230.3 948,229.5 949,227.8 951.6,226.1 954.1,227.3 957.4,224.4 960.8,223.6 963.3,225.6 965.5,215.5 970,216.5 975.1,210.2 977.6,199.7 979.6,195.9 984.3,203.4 988.5,204.8 992.7,201.4 999.4,200.4 1004.5,200.1 1008.7,187.7 1012,192.1 1016.2,189.1 1018.7,191.1 1023.8,187.4 1031.3,189.9 1035.5,184.9 1041.4,192.4 1047.3,194.1 1051.5,189.9 1055.7,188.2 1059.9,190.7 1063.2,190.4 1065.8,195.4 1070.8,198.3 1074.2,197.8 1081.7,193.3 1091.8,195.4 1095.2,193.8 1100.2,192.7 1107.8,195.4 1110.3,185.7 1113.6,190.7 1120,191.1 1122.4,211.7 1126.2,200.8 1130.4,196.6 1133.8,197.1 1138.8,201.6 1148.1,200 1151.4,173.1 1156.5,174.3 1159,167.6 1162.3,167.2 1169.1,164.7 1173.3,166.9 1180.8,165.2 1184,172.6 1186.3,170.2 1188.9,172.3 1192.2,174.8 1196.4,171.4 1202.3,169.7 1207.3,165.9 1211.5,167.6 1217.4,164.7 1225,163.5" fill="none" stroke="#AA00FF" stroke-width="1.9" stroke-linejoin="round" stroke-linecap="round"/>
<polyline points="9.2,124.6 12.6,126.8 19.8,126.3 22.7,112.4 25.2,115.4 33.6,120.8 42,119.1 55.4,116.2 64.3,115.7 66.3,104.5 68.9,101.1 73.9,105 78.9,106.1 85.7,104 92.4,100.6 94.9,104.5 98.3,112.9 101.6,115.4 104.1,114.5 107.5,114.5 110,118.4 114.2,122.1 118.4,117.4 122.6,115 125.1,116.2 129,117.4 134.4,115 139.4,112.9 141.1,115 143.6,113.7 151.2,111.2 157.9,112.9 161.2,111.2 165.9,112 169.6,118.4 173,119.6 175.5,117.4 180.5,119.6 186.4,122.1 193.1,120.4 197.3,116.7 201.5,116.7 207.4,118.4 211.6,112 218.3,109.5 223.4,112 227.6,122.1 230.1,126.8 234.3,124.1 236,124.5 239.5,122.9 242.7,121.2 250.3,119.5 252.8,134.6 254.5,141.8 261.2,137.5 266.2,136.3 269.6,137.1 272.1,132.4 276.3,133.8 279.3,137.1 281.3,131.3 283.9,135.1 291.4,131.3 303.2,128.4 308.2,125.4 310.7,128.4 312.4,122 320,120.7 322.5,125 325.9,117.8 330.1,115 334.3,115.3 340.1,117.8 345.2,115.6 349.4,116.1 351,141.3 353.6,144.2 361.1,144.2 364.5,143.5 368.7,136.3 377.1,138.8 380.8,147.2 387.2,143.9 390.2,142.5 393,147.2 396.4,141.3 403.9,140.2 414,137.1 425.8,139.2 436.7,138 440.9,132.1 444.3,135.1 454.3,132.1 457.7,132.9 464.4,130.4 470.3,127.9 472,129 476,131.3 480.4,132 489.6,130.3 493,134.5 494.7,142.1 501.4,152.2 503.1,149.7 506.4,158.1 515.7,155.5 521,151.8 524.9,156.4 529.9,158.9 535,158.1 537.8,175.7 542.5,169 546.7,169.8 551.8,164.8 556,167.6 563.5,168.6 567.7,172.7 577,167.6 582,171 587.9,166.5 593.8,174 600.5,169.3 605.5,168.6 608.9,157.6 616.4,153.9 622.3,151.8 625.7,155.9 629,155.5 632.4,158.9 637.4,153.5 641.6,154.7 648.3,153.5 651.7,158.6 654.2,158.6 655.9,185.8 658.4,195.8 661.4,203.9 668.5,192.5 673.5,181.1 677.7,187.4 680.3,182.4 684.5,179.4 690.3,186.6 696.2,180.7 700.4,180.4 707.1,184.9 708,184.9 712,184.9 713,185.7 719.8,192.4 724,190.4 726.5,200 733.2,191.1 736.6,197.8 744.1,196.6 748.3,198.3 755.4,205.8 761.7,201.1 765.9,197.4 767.6,197.8 770.1,193.8 777.7,197.8 783.6,204.2 789.5,198.8 798.7,200 803.7,198.8 807.1,196.6 812.1,201.1 818.8,195.8 825.6,191.6 832.3,190.4 838.2,182.7 844,182 850.8,175.6 854.1,176.5 861.7,174.3 863.4,171.9 865.9,178.1 874.3,175.6 881,179 883.5,176.5 891.1,173.6 894.4,176.5 901.1,177 907.9,180.3 914.6,178.1 923.8,179.8 927.2,188.2 929.7,186 933.9,186.5 936.7,199.5 942.3,196.6 944,194.9 948,193.3 954.1,191.6 962.5,189.1 965,182 970,183.2 975.1,177.6 977.6,169.7 979.6,167.2 984.3,173.9 989.3,174.8 992.7,172.3 999.4,170.2 1004.5,170.9 1008.7,160.8 1012,164.7 1016.2,161.8 1018.7,163 1023.8,159.7 1026.3,161.8 1031.3,161.3 1035.5,158 1041.4,164.7 1047.3,165.5 1051.5,161.3 1059.9,160.8 1063.2,163 1065.8,166.9 1070.8,168.9 1074.2,168.6 1080,165.5 1088.4,166.4 1091.8,168.1 1095.2,165.5 1101.9,164.2 1107.8,166.4 1110.3,159.7 1113.6,163 1119.5,163 1122.4,180.7 1126.2,168.9 1130.4,165.5 1133.8,165.5 1141.3,169.7 1144.7,168.1 1148.1,168.1 1151.4,147.4 1156.5,149.1 1159,143.4 1166.5,144 1169.1,141.7 1173.3,142.9 1180.8,141.7 1184,146.2 1187.2,144.5 1192.2,147.9 1196.4,145 1202.3,143.7 1207.3,140.7 1214.1,141.7 1217.4,140.7 1225,139.5" fill="none" stroke="#673AB7" stroke-width="1.9" stroke-linejoin="round" stroke-linecap="round"/>
<polyline points="9.2,107 12.6,109 19.3,108.3 22.7,96.1 25.2,98.3 33.6,101.6 42,104 48.7,100.6 64.3,99.4 66.3,88.5 68.9,86 73.9,89.4 78.9,89.9 85.7,88.5 91.5,86 94.9,87.7 97.7,96.1 104.1,96.6 110,101.1 114.2,101.9 119.2,97.8 129.3,96.9 138.6,93.6 141.1,96.9 146.1,95.6 151.2,93.2 159.6,95.2 166.3,95.6 170.5,100.6 178,98.6 186.4,102.3 194.8,100.3 205.7,97.2 209.9,99.4 212.5,93.6 218.3,91.9 225.1,93.9 228.4,104.5 234.3,102.8 236,103.6 239.5,103.6 242.7,101.5 249.4,100.5 252,108.6 254.5,116.1 261.2,112.8 266.2,112.8 269.6,114.5 276.3,110.6 279.3,115.3 282.2,111.1 285.5,114 294.8,110.6 309.9,107.8 312.4,104.9 320,104.4 322.5,107.8 326.7,101.9 334.3,100.2 340.1,101.5 348.5,99.4 351,119 353.6,121.2 363.6,122 366.2,119 370.4,117.3 377.1,118.3 380.4,123.7 388.8,121.2 393,123.7 397.2,119.5 414,117.8 425.8,116.1 429.1,117.8 436.7,117.8 440.9,113.3 444.3,115.3 452.7,114 457.7,112.8 469.4,109.4 472,110.2 473.6,111.9 476,111.1 480.4,113.2 489.6,111.9 493,116.1 497.2,122.3 503.1,126.1 506.4,130.3 510.6,128.3 517.3,127.8 521,125 524.9,128.7 531.6,131.2 535.5,129.5 537.8,142.1 542.5,137.1 546.7,137.9 551.8,134.5 556,136.2 562.7,137.1 568.6,140.1 577,135.7 582,139.1 587.9,136.2 593.8,141.3 600.5,137.4 606.4,137.1 608.9,129 616.4,125.6 622.3,125.6 629,129 634.1,129.5 637.4,126.1 646.7,127.8 650,127 654.2,129 656.7,148.8 660.9,156.4 668.5,149.7 673.5,142.1 677.7,146.3 682.8,141.3 692,144.6 697.9,140.4 707.1,143.8 708,144 712,143.8 713.9,144.5 719.8,147.9 724,146.7 726.5,152.4 733.2,146.2 736.6,150.8 744.1,149.6 750,152.1 755.4,156.3 761.7,153.8 765.9,150.4 767.6,152.1 770.1,148.7 777.7,151.3 782.7,156.3 790.3,152.4 798.7,153.8 803.7,153.8 808.4,150.4 812.1,154.1 823.9,147.1 826.4,145.4 834,146.2 838.2,142.9 844,142.4 850.8,137.8 854.1,139 862.5,136.1 868.4,140.7 874.3,137.3 881,139 883.5,136.1 890.2,135 894.4,137.8 901.1,139 905.3,140.3 914.6,139 923.8,139.5 928,142.9 932.2,140.7 936.7,147.9 942.3,143.7 944,142.9 948,142 962.5,140 966.7,137 970,139 979.6,131.6 984.3,135.3 989.3,135.6 994.4,133.3 999.4,131.9 1004.5,132.8 1008.7,128.6 1012,130.6 1017.1,127.2 1018.7,128.6 1023.8,125.6 1031.3,127.2 1035.5,125.6 1041.4,130.6 1043.9,129.4 1047.3,130.6 1054,126.1 1061.6,127.8 1070.8,131.9 1073.3,131.6 1079.2,128.9 1090.1,131.1 1094.3,130.6 1100.2,128.3 1103.6,129.9 1108.6,129.4 1110.3,126.1 1113.6,128.3 1119.5,128.3 1122.4,139 1127.9,123.9 1133.8,124.9 1138.8,126.9 1148.1,125.2 1151.4,117.7 1155.6,118.5 1159,115.5 1164,116 1170.7,114.8 1173.3,116 1179.1,114.8 1184,117.7 1187.2,117.7 1192.2,119.9 1196.4,117.7 1204,116.5 1214.1,115.5 1217.4,114.8 1225,114.8" fill="none" stroke="#FBC02D" stroke-width="1.9" stroke-linejoin="round" stroke-linecap="round"/>
<polyline points="9.2,99.9 19.3,100.6 22.7,90.2 25.2,92.2 33.6,94.9 42,96.9 48.7,93.9 64.3,91.9 66.3,83.5 68.9,81.5 73.9,84.3 82.3,85.5 91.5,83.5 94.9,85.2 98.3,91.9 104.1,91.5 110,96.9 117.6,93.9 129.3,92.7 138.6,90.2 142.8,92.2 151.2,89.9 159.6,91 166.3,91.5 170.5,96.1 186.4,97.2 194.8,95.6 205.7,93.6 212.5,91 220,90.5 225.9,92.7 228.4,98.6 234.3,97.8 236,98.5 239.5,98.6 242.7,96.5 249.4,95.5 252.8,103.9 255.3,106.9 261.2,104.9 266.2,106.6 276.3,104.9 280.5,103.9 284.7,106.9 291.4,103.6 309.9,103.2 312.4,100.2 320,100.2 322.5,102.2 326.7,97.7 334.3,96 340.1,96.8 348.5,95.5 351,110.3 353.6,112.3 363.6,112.8 368.7,110.3 377.1,111.1 380.4,114 388.8,112.3 393,114 397.2,111.6 414,109.4 436.7,109.4 440.9,105.6 444.3,107.2 454.3,105.6 469.4,103.2 472,102.6 476,104.9 480.4,106 489.6,104.8 497.2,111 506.4,116.1 515.7,115.2 520.7,113.2 527.4,116.6 535.8,118.3 539.2,124 542.5,121.1 551.8,119.9 556,121.6 566.9,122.8 572.8,120.6 587.9,121.1 595.4,123.3 606.4,121.1 608.9,116.1 616.4,115.2 624.8,114.4 629,116.1 637.4,114.4 646.7,116.1 654.2,115.6 656.7,127.8 660.9,129.5 668.5,127.8 672.7,124 677.7,125.3 681.9,121.1 688.7,124.5 697.1,122.3 708,122.7 712,122.8 718.1,123.2 726.5,126.6 733.2,124.4 736.6,126.6 744.1,125.6 750,127.2 755.9,129.9 765.1,126.1 775.2,126.6 782.7,129.9 792,127.2 796.2,128.6 803.7,127.8 812.1,128.9 823.9,124.4 834,123.2 842.4,121.5 850.8,119.4 862.5,118.8 868.4,121.5 874.3,118.8 887.7,117.7 897.8,119.9 909.5,119.9 921.3,118.8 933.1,121 938.1,123.6 942.3,121 944,121 948,120.5 960.8,121 965,119.4 972.6,118.5 979.3,116 984.3,117.2 989.3,118.5 997.7,116 1002.8,116.5 1011.2,114.8 1024.6,113.8 1031.3,114.8 1035.5,113.8 1041.4,116 1047.3,116 1053.2,114.3 1059.9,114.8 1063.2,114.3 1070,116 1078.4,116 1090.1,117.2 1095.2,116.5 1101.9,115.2 1106.9,116.5 1110.3,113.8 1113.6,114.8 1119.5,114.8 1122.4,120.5 1127.9,113.8 1133.8,114.3 1138.8,116 1147.2,116 1152.3,112.6 1155.6,113.1 1159.8,111 1164,111.8 1170.7,110.5 1179.1,111 1184,112.6 1187.2,112.6 1192.2,114.3 1196.4,112.6 1204,111.5 1214.1,111.5 1225,111.1" fill="none" stroke="#26C6DA" stroke-width="1.9" stroke-linejoin="round" stroke-linecap="round"/>
<polyline points="9.2,95.2 20.2,95.6 22.7,85.5 25.2,87.7 33.6,89.9 41.1,91.5 48.7,89.4 63.8,87.7 65.8,80.1 68.9,77.6 73.9,80.5 82.3,81.8 87.3,81.5 91.5,81 94.9,81.8 98.3,88.5 104.1,88.5 110,92.7 117.6,90.2 129.3,89.9 138.6,87.7 142.8,89.9 151.2,87.2 159.6,88.5 166.3,89.9 170.5,93.2 180.5,93.2 186.4,94.4 194.8,92.2 205.7,90.5 212.5,88.5 220,88.2 225.9,89.9 228.4,95.2 236,96 239.5,95.6 242.7,92.6 249.4,91.8 252.8,100.2 255.3,101.5 259.5,100.2 276.3,100.2 279.7,101.9 282.2,99.9 286.4,101.5 291.4,99.9 303.2,98.5 309.9,98.5 314.1,96.5 321.7,97.2 325,94.8 334.3,92.6 340.1,93.8 349.4,92.6 351,106.1 363.6,106.9 378.8,105.6 382.1,107.8 388.8,106.9 393,107.8 397.2,106.1 414,104.9 436.7,103.9 440.9,100.2 444.3,101.5 454.3,100.5 469.4,98.5 472,98.1 476,99.9 480.4,101 489.6,100.5 497.2,105.5 505.6,107.7 515.7,106.8 520.7,105.5 525.7,108.5 535.8,109.9 539.2,113.9 542.5,111.5 556,111.9 566.9,113.2 572.8,110.5 587.9,111.5 596.3,113.9 606.4,111 608.9,107.7 616.4,108.8 629.9,107.7 654.2,108.8 656.7,113.9 661.8,115.2 668.5,114.4 681.9,111.5 690.3,111.9 698.7,110.2 708,111 712,111 718.1,111 726.5,113.5 733.2,112.1 741.6,114.3 750,113.8 756.7,114.8 765.1,113.1 775.2,113.8 781.9,116 792,113.8 798.7,114.8 803.7,113.5 812.1,114.3 823.9,111.5 834,111.8 842.4,110.1 855.8,108.4 862.5,109.3 868.4,110.5 874.3,108.1 886,108.1 894.4,109.8 906.2,108.4 911.2,109.8 921.3,108.1 931.4,109.3 938.9,110.5 944,108.4 948,108.4 960.8,108.8 969.2,108.1 1119.5,107.8 1122.4,109.8 1127.1,107.8 1140.5,108.8 1153.9,108.1 1184,107.8 1192.2,108.8 1204,107.8 1215.7,107.4 1224.5,107.4" fill="none" stroke="#F57C00" stroke-width="1.9" stroke-linejoin="round" stroke-linecap="round"/>
<polyline points="9.2,95.2 20.2,95.6 22.7,85.5 25.2,87.7 33.6,89.9 41.1,91.5 48.7,89.4 63.8,87.7 65.8,80.1 68.9,77.6 73.9,80.5 82.3,81.8 87.3,81.5 91.5,81 94.9,81.8 98.3,88.5 104.1,88.5 110,92.7 117.6,90.2 129.3,89.9 138.6,87.7 142.8,89.9 151.2,87.2 159.6,88.5 166.3,89.9 170.5,93.2 180.5,93.2 186.4,94.4 194.8,92.2 205.7,90.5 212.5,88.5 220,88.2 225.9,89.9 228.4,95.2 236,96 239.5,95.6 242.7,92.6 249.4,91.8 252.8,100.2 255.3,101.5 259.5,100.2 276.3,100.2 279.7,101.9 282.2,99.9 286.4,101.5 291.4,99.9 303.2,98.5 309.9,98.5 314.1,96.5 321.7,97.2 325,94.8 334.3,92.6 340.1,93.8 349.4,92.6 351,106.1 363.6,106.9 378.8,105.6 382.1,107.8 388.8,106.9 393,107.8 397.2,106.1 414,104.9 436.7,103.9 440.9,100.2 444.3,101.5 454.3,100.5 469.4,98.5 472,98.1 476,99.9 480.4,101 489.6,100.5 497.2,105.5 505.6,107.7 515.7,106.8 520.7,105.5 525.7,108.5 535.8,109.9 539.2,113.9 542.5,111.5 556,111.9 566.9,113.2 572.8,110.5 587.9,111.5 596.3,113.9 606.4,111 608.9,107.7 616.4,108.8 629.9,107.7 654.2,108.8 656.7,113.9 661.8,115.2 668.5,114.4 681.9,111.5 690.3,111.9 698.7,110.2 708,111 712,111 718.1,111 726.5,113.5 733.2,112.1 741.6,114.3 750,113.8 756.7,114.8 765.1,113.1 775.2,113.8 781.9,116 792,113.8 798.7,114.8 803.7,113.5 812.1,114.3 823.9,111.5 834,111.8 842.4,110.1 855.8,108.4 862.5,109.3 868.4,110.5 874.3,108.1 886,108.1 894.4,109.8 906.2,108.4 911.2,109.8 921.3,108.1 931.4,109.3 938.9,110.5 944,108.4 948,108.4 960.8,108.8 969.2,108.1 1119.5,107.8 1122.4,109.8 1127.1,107.8 1140.5,108.8 1153.9,108.1 1184,107.8 1192.2,108.8 1204,107.8 1215.7,107.4 1224.5,107.4" fill="none" stroke="#E91E63" stroke-width="1.9" stroke-linejoin="round" stroke-linecap="round"/>
<circle cx="1224.5" cy="107.5" r="3" fill="#E91E63"/>
<polyline points="9.2,622.3 10.9,618.5 13.4,619.8 18.5,619.8 20.2,618.5 22.7,628.2 25.2,632.9 32.8,632.9 35.3,634.1 41.1,634.6 47,630.2 50.4,630.7 53.7,634.1 56.3,634.1 58.8,639.6 61.3,637 64.7,637 68,646.7 71.4,656.4 73.9,656.4 75.6,648 81.5,648 83.5,658.8 87.3,657.6 90.7,656.8 93.2,658.1 98.3,651.7 100.8,653.1 105,652.6 107.5,653.7 111.7,636.3 117.6,635.3 121.8,634.6 124.3,639.1 129.3,627.9 131.8,629.6 136,630.2 139.4,628.2 143.6,629.6 146.1,628.2 149.1,628.6 151.2,634.9 153.2,634.9 156.2,641.7 158.7,645 165.4,645 167.9,641.3 173,643.3 175.5,642.5 182.2,643 184.7,632.9 188.9,629.1 194.8,627.9 198.2,633.6 200.7,634.6 205.7,633.6 208.6,631.2 210.8,640 213.3,642.5 216.7,643.3 220.9,640.8 224.2,635.8 226.7,626.5 228.4,616.1 234.3,617.3 236,621.2 237.6,615.1 240.2,625 242.7,622.5 246.9,622.5 250.3,626.4 252.8,599 254.5,595.1 257,596.8 261.2,596.8 262.5,595.6 264.2,604.9 266.2,609.6 268.8,609.1 272.1,616.3 275.5,617 278.8,609.9 281.3,614.9 283.4,606.5 285.5,609.6 288.9,609.6 292.3,614.9 299,613.6 301.2,616.6 302.8,613.6 306.5,618.6 310.7,621.3 312.4,636.4 318.3,635.9 320.8,633.1 322.2,627.5 324.7,638.1 327.5,637.6 331.7,641.5 335.1,637.6 336.8,638.8 340.1,631.4 345.2,630.9 349.4,630.1 351,599.8 353.6,600.2 356.1,601.5 359.4,599.8 361.6,600.2 363.6,598.5 366.2,609.9 368.7,618.6 370.4,615.8 373.7,612.4 376.2,611.6 378.4,608.6 380.1,599.5 383.8,597.8 388,599 390.2,602.3 392.5,599.5 395.2,605.2 399.8,604.9 402.3,608.6 404.8,609.1 407,611.9 409.8,612.4 412,614.1 414.9,614.1 419.1,615.3 422.1,614.6 424.1,609.9 426.1,610.7 429.1,609.1 433.3,608.6 435.5,610.7 438.4,604.9 440.9,620.8 443.9,614.1 447.6,613.6 450.1,612.9 452.7,614.1 455.2,613.6 457.7,620.8 462.7,620.8 464.7,619.6 467.8,623.7 472.8,623.3 474.4,622 476.9,620 479.5,619.2 482.4,614.2 484.5,614.2 487,615.4 489.5,620.9 492.1,615.8 493.3,605.3 496.4,590.8 498.9,582 501.4,584.1 503.9,581.5 506.4,568.9 511.5,564.7 514,566.4 516,570.3 518.7,567.6 520.7,575.7 523.2,579 528.3,566.9 529.9,566.9 535.5,574.8 537.8,543.4 539.5,540 542.5,544.6 545.1,544.6 547.2,549.6 549.3,550.1 551.8,560.5 554.3,555.8 556.8,554.7 561.9,549.6 564,553 567.7,547.9 570.3,547.1 574.1,547.4 576.5,555.5 578.1,550.1 581.2,554.7 583.7,555.8 587.9,556.8 590.9,556.8 593.3,550.8 595.4,550.5 598,552.5 602.2,553 604.7,555.5 606,558.5 607.7,573.6 609.7,579.9 613.1,577.7 615.6,578.7 618.1,582 622.3,585.4 626.5,577 629.5,576.5 632.4,572.6 634.6,572 636.6,582.4 639.1,577.7 641.6,581.5 644.1,579.9 646.7,581.5 649.2,580.4 651.7,574.8 654.2,572 655.4,516.9 658.1,502.1 660.1,503.8 662.1,503.1 663.8,501.4 665.5,511.8 669.3,511.8 671,513.5 672.7,524.4 675.2,522.8 677.7,511.5 680.3,519.4 682.3,524.4 685,527.8 691.7,518.9 694.5,526.6 700.1,527.3 704.6,522.8 707.1,522.8 708,524.2 709.6,523.9 711.4,523.5 716.4,522.5 718.9,509.5 721.4,509 724,512.1 726.1,500.6 728.2,502 731.2,507 733.5,506.7 735.7,492.8 738.2,502.8 742.4,503.3 745.8,506.2 748.3,496.1 750,493.6 752.5,496.1 755.9,495.3 762.6,495.6 764.8,507 767.6,504.5 769.8,507 775.2,505.7 777.7,502 779.9,501.1 781.9,492.8 786.9,493.3 789,502 792,500.6 794.5,502 797,504.5 800.4,502 803.7,501.7 806.8,505.3 808.8,504 811.3,499 813.8,500 815.5,504.5 819.7,507.9 824.7,511.7 827.2,511.2 831.4,514.1 837.3,520.1 839.8,517.4 842.4,519.6 847.1,519.6 849.9,531.4 852.4,533.6 856.6,534.2 860,536.9 863.4,541.5 866.2,532.6 868.9,532.2 871.8,538.1 874.3,536.4 879.3,530.2 881.3,530.5 882.7,535.2 886,534.2 890.2,535.2 892.7,532.6 895.3,535.6 901.1,530.9 902.8,530.5 907.9,525.5 910.4,530.9 914.6,527.2 917.9,526.3 921.3,523.8 924.3,517.9 927.2,504.5 931.4,510.4 934.4,508.7 936.4,484.9 939.4,484.4 941.4,481 944,487.2 946.5,487.7 947.4,487.7 950.7,491.1 953.2,489.9 958.3,496.1 960.8,495.6 963.3,491.1 965.8,504 967.8,499.5 970,497.8 973.4,506.7 975.9,509.5 977.3,527.2 979.6,533.9 981.8,532.2 986,526.3 989.3,523.8 992.7,527.2 994.7,524.7 999.4,531.4 1001.9,532.2 1004.8,529.2 1008.7,544.3 1011.2,538.6 1014.5,542.6 1016.2,541.5 1018.7,542.6 1021.3,537.3 1024.6,542 1031,541.5 1035.5,546 1044.8,535.2 1047.3,536.9 1050.1,535.9 1052.8,543.1 1056.5,544 1060.7,540.6 1062.9,540.3 1066.9,529.2 1069.6,528.9 1073.7,525.5 1075.8,528.9 1079.7,536.9 1083.7,540.3 1089.3,539.8 1091.8,535.9 1093.5,538.1 1096.8,537.6 1103.6,533.9 1105.2,535.2 1108.6,533.6 1110.3,552 1112.8,544 1115.3,542 1117.8,541.5 1120,543.1 1122.4,512.9 1125,523 1127.9,519.6 1129.6,525.8 1132.1,526.8 1134.6,524.7 1138,517.1 1142.2,518.8 1144.7,521.3 1147.6,520.5 1149.2,523.5 1151.9,553.2 1153.9,556.6 1157,556.1 1158.6,566.1 1161.5,567.2 1164,571.2 1167,568.3 1171.6,574.5 1176.6,568.3 1180.8,569.2 1183.3,557.1 1186.1,560.1 1187.6,558.6 1190.5,562.3 1193,555.9 1197.4,565.1 1200.4,562.8 1202.9,562.8 1205.4,569.9 1209.6,571.1 1212.1,569.5 1215.1,569.6 1219.7,577.9 1222.2,578.9 1225.6,578.7" fill="none" stroke="#00E5FF" stroke-width="2" stroke-linejoin="round" stroke-linecap="round"/>
<text class="t" x="1374.5" y="61.4" font-size="11" fill="#c3c6ce" textLength="26" lengthAdjust="spacingAndGlyphs">5.600</text>
<text class="t" x="1374.5" y="98.1" font-size="11" fill="#c3c6ce" textLength="26" lengthAdjust="spacingAndGlyphs">5.400</text>
<text class="t" x="1374.5" y="134.8" font-size="11" fill="#c3c6ce" textLength="26" lengthAdjust="spacingAndGlyphs">5.200</text>
<text class="t" x="1374.5" y="171.5" font-size="11" fill="#c3c6ce" textLength="26" lengthAdjust="spacingAndGlyphs">5.000</text>
<text class="t" x="1374.5" y="208.2" font-size="11" fill="#c3c6ce" textLength="26" lengthAdjust="spacingAndGlyphs">4.800</text>
<text class="t" x="1374.5" y="245.0" font-size="11" fill="#c3c6ce" textLength="26" lengthAdjust="spacingAndGlyphs">4.600</text>
<text class="t" x="1374.5" y="281.7" font-size="11" fill="#c3c6ce" textLength="26" lengthAdjust="spacingAndGlyphs">4.400</text>
<text class="t" x="1374.5" y="318.4" font-size="11" fill="#c3c6ce" textLength="26" lengthAdjust="spacingAndGlyphs">4.200</text>
<text class="t" x="1374.5" y="355.1" font-size="11" fill="#c3c6ce" textLength="26" lengthAdjust="spacingAndGlyphs">4.000</text>
<text class="t" x="1374.5" y="391.8" font-size="11" fill="#c3c6ce" textLength="26" lengthAdjust="spacingAndGlyphs">3.800</text>
<text class="t" x="1374.5" y="428.5" font-size="11" fill="#c3c6ce" textLength="26" lengthAdjust="spacingAndGlyphs">3.600</text>
<text class="t" x="1374.5" y="447.4" font-size="11" fill="#c3c6ce" textLength="36" lengthAdjust="spacingAndGlyphs">180.000</text>
<text class="t" x="1374.5" y="482.2" font-size="11" fill="#c3c6ce" textLength="36" lengthAdjust="spacingAndGlyphs">160.000</text>
<text class="t" x="1374.5" y="517.0" font-size="11" fill="#c3c6ce" textLength="36" lengthAdjust="spacingAndGlyphs">140.000</text>
<text class="t" x="1374.5" y="551.8" font-size="11" fill="#c3c6ce" textLength="36" lengthAdjust="spacingAndGlyphs">120.000</text>
<text class="t" x="1374.5" y="621.4" font-size="11" fill="#c3c6ce" textLength="30.5" lengthAdjust="spacingAndGlyphs">80.000</text>
<text class="t" x="1374.5" y="656.2" font-size="11" fill="#c3c6ce" textLength="30.5" lengthAdjust="spacingAndGlyphs">60.000</text>
<text class="t" x="44.2" y="700" font-size="11" fill="#c3c6ce" textLength="10.6" lengthAdjust="spacingAndGlyphs">16</text>
<text class="t" x="117.2" y="700" font-size="11" fill="#c3c6ce" textLength="10.6" lengthAdjust="spacingAndGlyphs">23</text>
<text class="t" x="213.0" y="700" font-size="11" fill="#c3c6ce" textLength="17" lengthAdjust="spacingAndGlyphs">Nov</text>
<text class="t" x="329.2" y="700" font-size="11" fill="#c3c6ce" textLength="10.6" lengthAdjust="spacingAndGlyphs">13</text>
<text class="t" x="402.2" y="700" font-size="11" fill="#c3c6ce" textLength="10.6" lengthAdjust="spacingAndGlyphs">20</text>
<text class="t" x="525.0" y="700" font-size="11" fill="#c3c6ce" textLength="17" lengthAdjust="spacingAndGlyphs">Dec</text>
<text class="t" x="614.2" y="700" font-size="11" fill="#c3c6ce" textLength="10.6" lengthAdjust="spacingAndGlyphs">11</text>
<text class="t" x="687.2" y="700" font-size="11" fill="#c3c6ce" textLength="10.6" lengthAdjust="spacingAndGlyphs">18</text>
<text font-weight="bold" x="804.5" y="700" font-size="11" fill="#c3c6ce" textLength="24" lengthAdjust="spacingAndGlyphs">2024</text>
<text class="t" x="944.2" y="700" font-size="11" fill="#c3c6ce" textLength="10.6" lengthAdjust="spacingAndGlyphs">15</text>
<text class="t" x="1028.2" y="700" font-size="11" fill="#c3c6ce" textLength="10.6" lengthAdjust="spacingAndGlyphs">23</text>
<text class="t" x="1127.0" y="700" font-size="11" fill="#c3c6ce" textLength="17" lengthAdjust="spacingAndGlyphs">Feb</text>
<text class="t" x="1226.2" y="700" font-size="11" fill="#c3c6ce" textLength="10.6" lengthAdjust="spacingAndGlyphs">12</text>
<text class="t" x="1299.2" y="700" font-size="11" fill="#c3c6ce" textLength="10.6" lengthAdjust="spacingAndGlyphs">19</text>
<rect x="1295.2" y="85" width="110.6" height="15.6" rx="2" fill="#E91E63"/>
<path d="M1367.5,85v15.6" stroke="rgba(0,0,0,0.45)" stroke-width="1"/>
<text x="1300.4" y="96.6" font-size="10" fill="#fff" textLength="62.2" lengthAdjust="spacingAndGlyphs">100-ZQG2024</text>
<text x="1374.6" y="96.8" font-size="11" fill="#fff" textLength="25.6" lengthAdjust="spacingAndGlyphs">5.325</text>
<rect x="1295.2" y="100.5" width="110.6" height="15.6" rx="2" fill="#F57C00"/>
<path d="M1367.5,100.5v15.6" stroke="rgba(0,0,0,0.45)" stroke-width="1"/>
<text x="1300.4" y="112.1" font-size="10" fill="#fff" textLength="62.2" lengthAdjust="spacingAndGlyphs">100-ZQG2024</text>
<text x="1374.6" y="112.3" font-size="11" fill="#fff" textLength="25.6" lengthAdjust="spacingAndGlyphs">5.325</text>
<rect x="1295.2" y="116" width="110.6" height="15.6" rx="2" fill="#26C6DA"/>
<path d="M1367.5,116v15.6" stroke="rgba(0,0,0,0.45)" stroke-width="1"/>
<text x="1300.4" y="127.6" font-size="10" fill="#000" textLength="62.2" lengthAdjust="spacingAndGlyphs">100-ZQH2024</text>
<text x="1374.6" y="127.8" font-size="11" fill="#000" textLength="25.6" lengthAdjust="spacingAndGlyphs">5.305</text>
<rect x="1298" y="131" width="107.8" height="15.6" rx="2" fill="#FBC02D"/>
<path d="M1367.5,131v15.6" stroke="rgba(0,0,0,0.45)" stroke-width="1"/>
<text x="1303.2" y="142.6" font-size="10" fill="#000" textLength="59.4" lengthAdjust="spacingAndGlyphs">100-ZQJ2024</text>
<text x="1374.6" y="142.8" font-size="11" fill="#000" textLength="25.6" lengthAdjust="spacingAndGlyphs">5.285</text>
<rect x="1296.5" y="146" width="109.3" height="15.6" rx="2" fill="#673AB7"/>
<path d="M1367.5,146v15.6" stroke="rgba(0,0,0,0.45)" stroke-width="1"/>
<text x="1301.7" y="157.6" font-size="10" fill="#fff" textLength="60.9" lengthAdjust="spacingAndGlyphs">100-ZQK2024</text>
<text x="1374.6" y="157.8" font-size="11" fill="#fff" textLength="25.6" lengthAdjust="spacingAndGlyphs">5.150</text>
<rect x="1295" y="161" width="110.8" height="15.6" rx="2" fill="#AA00FF"/>
<path d="M1367.5,161v15.6" stroke="rgba(0,0,0,0.45)" stroke-width="1"/>
<text x="1300.2" y="172.6" font-size="10" fill="#fff" textLength="62.4" lengthAdjust="spacingAndGlyphs">100-ZQM2024</text>
<text x="1374.6" y="172.8" font-size="11" fill="#fff" textLength="25.6" lengthAdjust="spacingAndGlyphs">5.020</text>
<rect x="1296.4" y="176" width="109.4" height="15.6" rx="2" fill="#4CAF50"/>
<path d="M1367.5,176v15.6" stroke="rgba(0,0,0,0.45)" stroke-width="1"/>
<text x="1301.6" y="187.6" font-size="10" fill="#fff" textLength="61.0" lengthAdjust="spacingAndGlyphs">100-ZQN2024</text>
<text x="1374.6" y="187.8" font-size="11" fill="#fff" textLength="25.6" lengthAdjust="spacingAndGlyphs">4.940</text>
<rect x="1295.1" y="206.7" width="110.7" height="15.6" rx="2" fill="#22AB94"/>
<path d="M1367.5,206.7v15.6" stroke="rgba(0,0,0,0.45)" stroke-width="1"/>
<text x="1300.3" y="218.3" font-size="10" fill="#fff" textLength="62.3" lengthAdjust="spacingAndGlyphs">100-ZQQ2024</text>
<text x="1374.6" y="218.5" font-size="11" fill="#fff" textLength="25.6" lengthAdjust="spacingAndGlyphs">4.745</text>
<rect x="1296" y="222.3" width="109.8" height="15.6" rx="2" fill="#EF5350"/>
<path d="M1367.5,222.3v15.6" stroke="rgba(0,0,0,0.45)" stroke-width="1"/>
<text x="1301.2" y="233.9" font-size="10" fill="#fff" textLength="61.4" lengthAdjust="spacingAndGlyphs">100-ZQU2024</text>
<text x="1374.6" y="234.1" font-size="11" fill="#fff" textLength="25.6" lengthAdjust="spacingAndGlyphs">4.660</text>
<rect x="1296" y="246" width="109.8" height="15.6" rx="2" fill="#F48FB1"/>
<path d="M1367.5,246v15.6" stroke="rgba(0,0,0,0.45)" stroke-width="1"/>
<text x="1301.2" y="257.6" font-size="10" fill="#000" textLength="61.4" lengthAdjust="spacingAndGlyphs">100-ZQV2024</text>
<text x="1374.6" y="257.8" font-size="11" fill="#000" textLength="25.6" lengthAdjust="spacingAndGlyphs">4.530</text>
<rect x="1296.8" y="267.1" width="109.0" height="15.6" rx="2" fill="#82B1FF"/>
<path d="M1367.5,267.1v15.6" stroke="rgba(0,0,0,0.45)" stroke-width="1"/>
<text x="1302.0" y="278.7" font-size="10" fill="#000" textLength="60.6" lengthAdjust="spacingAndGlyphs">100-ZQX2024</text>
<text x="1374.6" y="278.9" font-size="11" fill="#000" textLength="25.6" lengthAdjust="spacingAndGlyphs">4.415</text>
<rect x="1296.8" y="286.4" width="109.0" height="15.6" rx="2" fill="#FFA726"/>
<path d="M1367.5,286.4v15.6" stroke="rgba(0,0,0,0.45)" stroke-width="1"/>
<text x="1302.0" y="298.0" font-size="10" fill="#000" textLength="60.6" lengthAdjust="spacingAndGlyphs">100-ZQZ2024</text>
<text x="1374.6" y="298.2" font-size="11" fill="#000" textLength="25.6" lengthAdjust="spacingAndGlyphs">4.310</text>
<rect x="1244" y="571" width="173" height="16" rx="2" fill="#00E5FF"/>
<path d="M1367.5,571v16" stroke="rgba(0,0,0,0.45)" stroke-width="1"/>
<text x="1249.5" y="582.6" font-size="10.5" fill="#000" textLength="113" lengthAdjust="spacingAndGlyphs">(ZQZ2024-ZQF2024)*100</text>
<text x="1375" y="583" font-size="11" fill="#000" textLength="36" lengthAdjust="spacingAndGlyphs">102.000</text>
<path d="M9.1,718.3h7v8.7h-3.6v-5.2h-3.4z" fill="#d1d4dc"/><circle cx="18.3" cy="720.1" r="1.2" fill="#d1d4dc"/><path d="M20.8,718.3h5.2l-3.2,8.7h-4z" fill="#d1d4dc"/>
<text x="29.2" y="727.8" font-size="11.8" fill="#d1d4dc" stroke="#d1d4dc" stroke-width="0.3" textLength="62" lengthAdjust="spacingAndGlyphs">TradingView</text>
<g opacity="0.88"><text class="wm" transform="translate(1176,695) skewX(-14)" x="0" y="0" font-size="58" font-weight="900" fill="#9a9da6" textLength="246" lengthAdjust="spacingAndGlyphs" style="font-family:'Liberation Sans','Noto Sans CJK SC',sans-serif">海马财经</text></g>
<text x="1195" y="733" font-size="32" font-weight="bold" font-style="italic" fill="#12687c" stroke="#12687c" stroke-width="0.9" textLength="222" lengthAdjust="spacing">zzrt01.cn</text>
</g></svg></body></html>
